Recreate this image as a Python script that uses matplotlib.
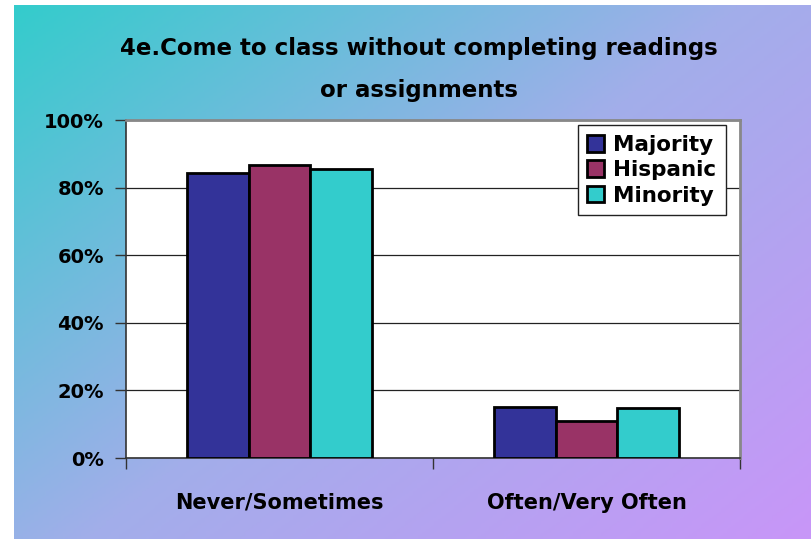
import numpy as np
import matplotlib.pyplot as plt
from matplotlib.colors import LinearSegmentedColormap

categories = ['Never/Sometimes', 'Often/Very Often']
series = ['Majority', 'Hispanic', 'Minority']
majority = [84.3, 15.1]
hispanic = [86.7, 10.9]
minority = [85.5, 14.8]
colors = ['#333399', '#993366', '#33CCCC']
yticks = [0, 20, 40, 60, 80, 100]

fig = plt.figure(figsize=(8.12, 5.39), dpi=100)
W, H = 812, 539

# diagonal gradient background (starts a little in from the top-left)
bg = fig.add_axes([14 / W, 0, 1 - 14 / W, 1 - 5 / H])
bg.set_axis_off()
gx, gy = np.meshgrid(np.linspace(0, 1, 200), np.linspace(0, 1, 200))
t = (gx * 0.55 + gy * 0.45)
cmap = LinearSegmentedColormap.from_list('bg', ['#34cccc', '#a2aeea', '#c896f8'])
bg.imshow(t, cmap=cmap, aspect='auto', extent=[0, 1, 0, 1], origin='upper')

left, right, top, bottom = 126, 740, 120, 458
ax = fig.add_axes([left / W, 1 - bottom / H, (right - left) / W, (bottom - top) / H])
ax.set_facecolor('white')

x = np.arange(len(categories))
w = 0.2
for i, (name, vals) in enumerate(zip(series, [majority, hispanic, minority])):
    ax.bar(x + (i - 1) * w, vals, w, color=colors[i], edgecolor='black',
           linewidth=2, label=name, zorder=3)

ax.set_xlim(-0.5, 1.5)
ax.set_ylim(0, 100)
ax.set_yticks(yticks)
ax.set_yticklabels([f'{v}%' for v in yticks], fontsize=14, fontweight='bold')
ax.set_xticks([-0.5, 0.5, 1.5])
ax.set_xticklabels([])
ax.set_xticks(x, minor=True)
ax.set_xticklabels(categories, minor=True, fontsize=15, fontweight='bold')
ax.tick_params(axis='x', which='minor', length=0, pad=25)
ax.tick_params(axis='x', which='major', length=8, width=1, color='#333333')
ax.tick_params(axis='y', length=8, width=1, color='#333333', pad=8)
ax.yaxis.grid(True, color='#222222', linewidth=0.9, zorder=0)
ax.set_axisbelow(True)
for s in ['left', 'bottom']:
    ax.spines[s].set_color('#333333')
    ax.spines[s].set_linewidth(1.2)
for s in ['top', 'right']:
    ax.spines[s].set_color('#888888')
    ax.spines[s].set_linewidth(2)

leg = ax.legend(loc='upper right', bbox_to_anchor=(0.977, 0.985), borderaxespad=0,
                fancybox=False, framealpha=1, edgecolor='#222222',
                handlelength=0.8, handleheight=0.8, handletextpad=0.4,
                labelspacing=0.25, borderpad=0.45,
                prop={'size': 15.5, 'weight': 'bold'})
leg.get_frame().set_linewidth(1)

fig.text(419 / W, 1 - 48 / H, '4e.Come to class without completing readings',
         ha='center', va='center', fontsize=16.5, fontweight='bold')
fig.text(419 / W, 1 - 90 / H, 'or assignments',
         ha='center', va='center', fontsize=16.5, fontweight='bold')

fig.savefig('out.png', dpi=100)
